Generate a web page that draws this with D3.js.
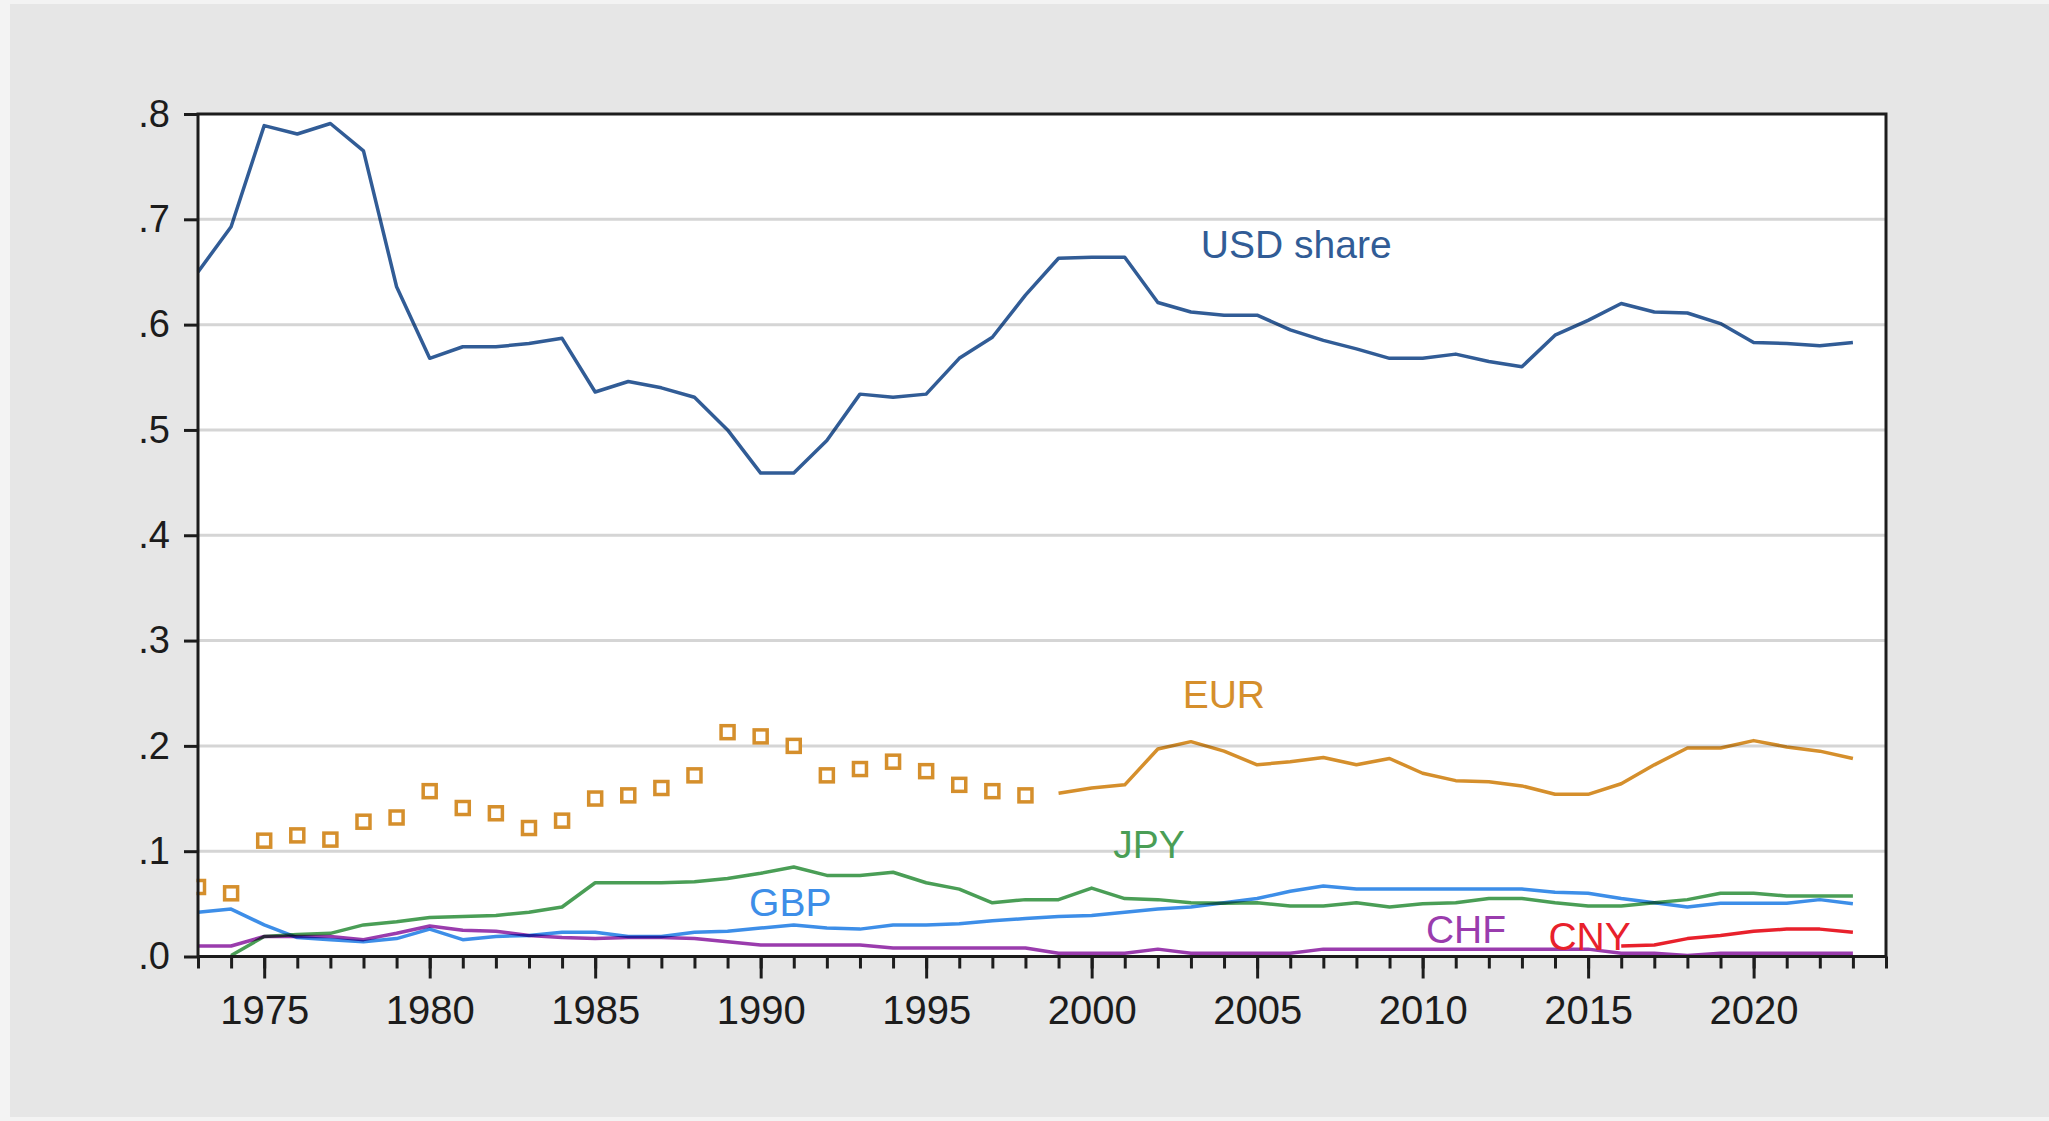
<!DOCTYPE html>
<html>
<head>
<meta charset="utf-8">
<script src="https://cdn.jsdelivr.net/npm/d3@7"></script>
<style>
  body { margin: 0; background: #f3f3f3; }
  svg { display: block; font-family: "Liberation Sans", Arial, sans-serif; }
  .series { mix-blend-mode: multiply; }
</style>
</head>
<body>
<div class="chart"></div>
<script>
// annual currency shares, 1973-2023
const years = [1973, 1974, 1975, 1976, 1977, 1978, 1979, 1980, 1981, 1982,
  1983, 1984, 1985, 1986, 1987, 1988, 1989, 1990, 1991, 1992,
  1993, 1994, 1995, 1996, 1997, 1998, 1999, 2000, 2001, 2002,
  2003, 2004, 2005, 2006, 2007, 2008, 2009, 2010, 2011, 2012,
  2013, 2014, 2015, 2016, 2017, 2018, 2019, 2020, 2021, 2022, 2023];

const usdShare = [.650, .693, .789, .781, .791, .765, .636, .568, .579, .579,
  .582, .587, .536, .546, .540, .531, .500, .459, .459, .490,
  .534, .531, .534, .568, .588, .628, .663, .664, .664, .621,
  .612, .609, .609, .595, .585, .577, .568, .568, .572, .565,
  .560, .590, .604, .620, .612, .611, .601, .583, .582, .580, .583];

// before 1999 the euro is a synthetic aggregate (drawn as squares)
const euroStart = 1999;
const eurShare = [.066, .060, .110, .115, .111, .128, .132, .157, .141, .136,
  .122, .129, .150, .153, .160, .172, .213, .209, .200, .172,
  .178, .185, .176, .163, .157, .153, .155, .160, .163, .197,
  .204, .195, .182, .185, .189, .182, .188, .174, .167, .166,
  .162, .154, .154, .164, .182, .198, .198, .205, .199, .195, .188];

const jpyShare = [null, .001, .019, .021, .022, .030, .033, .037, .038, .039,
  .042, .047, .070, .070, .070, .071, .074, .079, .085, .077,
  .077, .080, .070, .064, .051, .054, .054, .065, .055, .054,
  .051, .0505, .051, .048, .048, .051, .047, .050, .051, .055,
  .055, .051, .048, .048, .051, .054, .060, .060, .0575, .0575, .0575];

const gbpShare = [.042, .045, .030, .018, .016, .014, .017, .026, .016, .019,
  .020, .023, .023, .019, .019, .023, .024, .027, .030, .027,
  .026, .030, .030, .031, .034, .036, .038, .039, .042, .045,
  .047, .051, .055, .062, .067, .064, .064, .064, .064, .064,
  .064, .061, .060, .055, .051, .047, .0505, .0505, .0505, .054, .050];

const chfShare = [.010, .010, .019, .019, .019, .016, .022, .029, .025, .024,
  .020, .018, .017, .018, .018, .017, .014, .011, .011, .011,
  .011, .008, .008, .008, .008, .008, .003, .003, .003, .007,
  .003, .003, .003, .003, .007, .007, .007, .007, .007, .007,
  .007, .007, .007, .003, .003, .001, .003, .003, .003, .003, .003];

const cnyShare = [null, null, null, null, null, null, null, null, null, null,
  null, null, null, null, null, null, null, null, null, null,
  null, null, null, null, null, null, null, null, null, null,
  null, null, null, null, null, null, null, null, null, null,
  null, null, null, .010, .011, .017, .020, .024, .026, .026, .023];

const seriesNames = ["USD share", "EUR", "JPY", "GBP", "CHF", "CNY"];
const yTicks = [0, .1, .2, .3, .4, .5, .6, .7, .8];
const xMajorTicks = [1975, 1980, 1985, 1990, 1995, 2000, 2005, 2010, 2015, 2020];
const xMinorTicks = [...years, 2024];

const W = 2049, H = 1121;
const plot = {left: 198, right: 1886, top: 114, bottom: 956.5};

const svg = d3.select(".chart").append("svg")
  .attr("width", W)
  .attr("height", H);

// grey panel
svg.append("rect")
  .attr("x", 10).attr("y", 4)
  .attr("width", W - 10).attr("height", H - 8)
  .attr("fill", "#e6e6e6");

const x = d3.scaleLinear().domain([1973, 2024]).range([plot.left, plot.right]);
const y = d3.scaleLinear().domain([0, 0.8]).range([plot.bottom, plot.top]);

const colors = {
  "USD share": "#315c96",
  "EUR": "#d58f2c",
  "JPY": "#4a9e56",
  "GBP": "#3d8ee8",
  "CHF": "#9a3cad",
  "CNY": "#e8212c"
};

const g = svg.append("g").style("isolation", "isolate");

g.append("rect")
  .attr("x", plot.left).attr("y", plot.top)
  .attr("width", plot.right - plot.left)
  .attr("height", plot.bottom - plot.top)
  .attr("fill", "#fff");

// horizontal grid
g.selectAll(".grid")
  .data(yTicks.filter(d => d > 0 && d < 0.8))
  .enter().append("line")
  .attr("class", "grid")
  .attr("x1", plot.left).attr("x2", plot.right)
  .attr("y1", d => y(d)).attr("y2", d => y(d))
  .attr("stroke", "#d5d5d5")
  .attr("stroke-width", 3);

const rows = years.map((yr, i) => ({
  year: yr,
  "USD share": usdShare[i],
  "EUR": eurShare[i],
  "JPY": jpyShare[i],
  "GBP": gbpShare[i],
  "CHF": chfShare[i],
  "CNY": cnyShare[i]
}));

function lineFor(name, filter) {
  return d3.line()
    .defined(d => d[name] != null && filter(d))
    .x(d => x(d.year))
    .y(d => y(d[name]));
}

const lineOrder = ["USD share", "EUR", "JPY", "GBP", "CHF", "CNY"];
lineOrder.forEach(name => {
  const keep = name === "EUR" ? (d => d.year >= euroStart) : (d => true);
  g.append("path")
    .datum(rows)
    .attr("class", "series")
    .attr("fill", "none")
    .attr("stroke", colors[name])
    .attr("stroke-width", 3.5)
    .attr("stroke-linejoin", "round")
    .attr("d", lineFor(name, keep));
});

// synthetic euro squares
const sq = 13;
g.selectAll(".eurpt")
  .data(rows.filter(d => d.year < euroStart))
  .enter().append("rect")
  .attr("class", "eurpt")
  .attr("x", d => x(d.year) - sq / 2)
  .attr("y", d => y(d.EUR) - sq / 2)
  .attr("width", sq).attr("height", sq)
  .attr("fill", "#fff")
  .attr("stroke", colors.EUR)
  .attr("stroke-width", 3.5);

// clip squares that spill over the left edge
svg.append("rect")
  .attr("x", 10).attr("y", plot.top)
  .attr("width", plot.left - 11.5).attr("height", plot.bottom - plot.top)
  .attr("fill", "#e6e6e6");

// series labels
const labelSpots = {
  "USD share": [2003.3, 0.663],
  "EUR": [2002.75, 0.236],
  "JPY": [2000.65, 0.0935],
  "GBP": [1989.65, 0.0385],
  "CHF": [2010.1, 0.013],
  "CNY": [2013.8, 0.0063]
};
svg.selectAll(".slabel")
  .data(seriesNames)
  .enter().append("text")
  .attr("class", "slabel")
  .attr("x", d => x(labelSpots[d][0]))
  .attr("y", d => y(labelSpots[d][1]))
  .attr("fill", d => colors[d])
  .attr("font-size", 39)
  .text(d => d);

// frame
svg.append("rect")
  .attr("x", plot.left).attr("y", plot.top)
  .attr("width", plot.right - plot.left)
  .attr("height", plot.bottom - plot.top)
  .attr("fill", "none")
  .attr("stroke", "#1c1c1c")
  .attr("stroke-width", 3);

// axes
const yAxis = d3.axisLeft(y)
  .tickValues(yTicks)
  .tickSize(14)
  .tickPadding(14)
  .tickFormat(d => d3.format(".1f")(d).replace(/^0/, ""));

const xMinor = d3.axisBottom(x)
  .tickValues(xMinorTicks)
  .tickSize(12)
  .tickFormat("");

const xMajor = d3.axisBottom(x)
  .tickValues(xMajorTicks)
  .tickSize(22)
  .tickPadding(17)
  .tickFormat(d3.format("d"));

svg.append("g")
  .attr("class", "axis y-axis")
  .attr("transform", "translate(" + plot.left + ",0)")
  .call(yAxis)
  .call(a => a.select(".domain").remove());

svg.append("g")
  .attr("class", "axis x-minor")
  .attr("transform", "translate(0," + plot.bottom + ")")
  .call(xMinor)
  .call(a => a.select(".domain").remove());

svg.append("g")
  .attr("class", "axis x-axis")
  .attr("transform", "translate(0," + plot.bottom + ")")
  .call(xMajor)
  .call(a => a.select(".domain").remove());

svg.selectAll(".axis line")
  .attr("stroke", "#1c1c1c")
  .attr("stroke-width", 3);

svg.selectAll(".axis text")
  .attr("fill", "#1c1c1c")
  .attr("font-family", "Liberation Sans, Arial, sans-serif");

svg.selectAll(".y-axis text").attr("font-size", 38);
svg.selectAll(".x-axis text").attr("font-size", 40);
</script>
</body>
</html>
